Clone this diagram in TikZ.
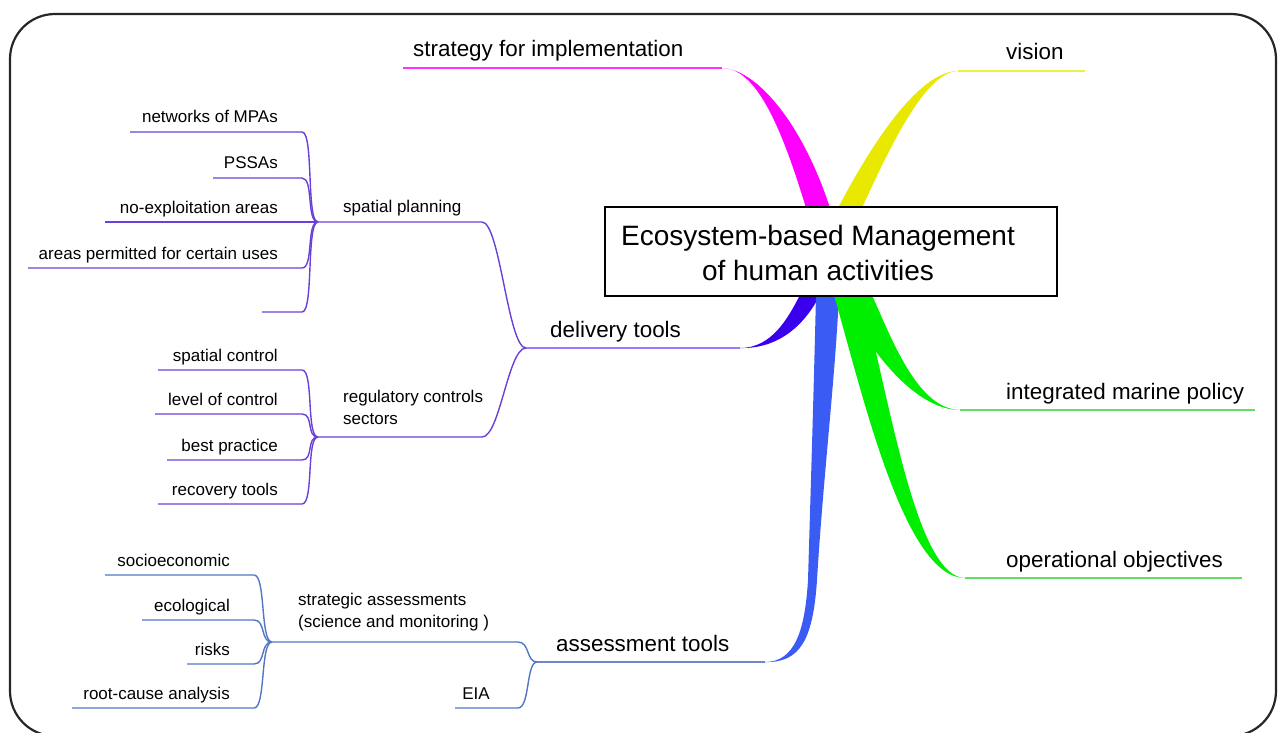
\documentclass[tikz,border=0pt]{standalone}
\usepackage{fontspec}
\setmainfont{Liberation Sans}
\definecolor{magB}{HTML}{FF00FF}
\definecolor{yelB}{HTML}{E8E800}
\definecolor{yelL}{HTML}{EEEE44}
\definecolor{purB}{HTML}{3A00EE}
\definecolor{purL}{HTML}{9E78FF}
\definecolor{bluB}{HTML}{3A5CF5}
\definecolor{bluL}{HTML}{6F86C8}
\definecolor{grnB}{HTML}{00EE00}
\definecolor{grnL}{HTML}{66DD66}
\definecolor{subP}{HTML}{6A40D8}
\definecolor{subB}{HTML}{5276C4}
\begin{document}
\begin{tikzpicture}[x=1pt,y=-1pt,
  big/.style={inner sep=0pt, font=\fontsize{22.4}{26}\selectfont},
  sml/.style={inner sep=0pt, font=\fontsize{17}{21.5}\selectfont},
  thinP/.style={draw=subP, line width=1.4pt},
  thinB/.style={draw=subB, line width=1.4pt},
  trunk/.style={line width=2pt}]
\useasboundingbox (0,0) rectangle (1278,733);
% frame
\draw[line width=2.2pt, draw=black!85, rounded corners=45pt] (10,14) rectangle (1276,736);

% ===== main tapered branches =====
% strategy (magenta)
\fill[magB] (722,68) .. controls (755,68) and (780,122) .. (806,208)
  -- (830,208) .. controls (802,122) and (756,69) .. (722,68) -- cycle;
% vision (yellow)
\fill[yelB] (958,71) .. controls (925,71) and (882,124) .. (838,208)
  -- (862,208) .. controls (900,124) and (930,72) .. (958,71) -- cycle;
% delivery tools (violet)
\fill[purB] (740,348) .. controls (772,348) and (788,318) .. (800,295)
  -- (820,295) .. controls (804,326) and (778,349) .. (740,348) -- cycle;
% assessment tools (blue)
\fill[bluB] (765,662) .. controls (795,662) and (805,630) .. (808,580)
  .. controls (811,480) and (814,380) .. (816,295)
  -- (839,295) .. controls (835,380) and (823,480) .. (817,580)
  .. controls (813,640) and (800,663) .. (765,662) -- cycle;
% integrated marine policy (green)
\fill[grnB] (960,410) .. controls (915,410) and (868,350) .. (842,295)
  -- (872,295) .. controls (894,345) and (919,409) .. (960,410) -- cycle;
% operational objectives (green)
\fill[grnB] (965,578) .. controls (905,578) and (864,400) .. (834,295)
  -- (862,295) .. controls (890,400) and (916,577) .. (965,578) -- cycle;

% centre box
\node[draw=black, line width=1.6pt, fill=white, minimum width=452pt, minimum height=89pt, inner sep=0pt] (center) at (831,251.5) {};
\node[inner sep=0pt, align=center, font=\fontsize{28}{35}\selectfont] (ctext) at (818,253) {Ecosystem-based Management\\of human activities};

% ===== level-1 labels and lines =====
\coordinate (sEnd) at (722,68);
\coordinate (vEnd) at (958,71);
\coordinate (dEnd) at (740,348);
\coordinate (aEnd) at (765,662);
\coordinate (iEnd) at (960,410);
\coordinate (oEnd) at (965,578);

\node[big, anchor=base west] (strat) at (413,57) {strategy for implementation};
\node[big, anchor=base west] (vis) at (1006,60) {vision};
\node[big, anchor=base west] (integ) at (1006,399) {integrated marine policy};
\node[big, anchor=base west] (oper) at (1006,567) {operational objectives};
\node[big, anchor=base west] (deliv) at (550,337) {delivery tools};
\node[big, anchor=base west] (assess) at (556,651) {assessment tools};

\coordinate (sL) at (403,68);
\coordinate (vR) at (1085,71);
\coordinate (iR) at (1255,410);
\coordinate (oR) at (1242,578);
\coordinate (dJ) at (526,348);
\coordinate (aJ) at (537,662);

\draw[trunk, magB!80] (sL) -- (sEnd);
\draw[trunk, yelL] (vEnd) -- (vR);
\draw[trunk, grnL] (iEnd) -- (iR);
\draw[trunk, grnL] (oEnd) -- (oR);
\draw[trunk, purL] (dJ) -- (dEnd);
\draw[trunk, bluL] (aJ) -- (aEnd);

% ===== delivery tools sub-branches =====
\node[sml, anchor=base west] (spat) at (343,212) {spatial planning};
\node[sml, anchor=north west, align=left] (regu) at (343,390) {regulatory controls\\sectors};
\coordinate (spJ) at (318,222);
\coordinate (rgJ) at (318,437);
\draw[thinP] (spJ) -- (482,222) .. controls (500,222) and (508,348) .. (dJ);
\draw[thinP] (rgJ) -- (482,437) .. controls (500,437) and (508,348) .. (dJ);

% spatial planning children
\node[sml, anchor=base east] (mpa) at (278,123) {networks of MPAs};
\node[sml, anchor=base east] (pssa) at (278,169) {PSSAs};
\node[sml, anchor=base east] (noex) at (278,213) {no-exploitation areas};
\node[sml, anchor=base east] (perm) at (278,259) {areas permitted for certain uses};
\coordinate (mpaL) at (130,132);
\coordinate (pssaL) at (213,178);
\coordinate (noexL) at (105,222);
\coordinate (permL) at (28,268);
\coordinate (emptL) at (262,312);
\draw[thinP] (mpaL) -- (302,132) .. controls (314,132) and (306,222) .. (spJ);
\draw[thinP] (pssaL) -- (302,178) .. controls (314,178) and (306,222) .. (spJ);
\draw[thinP] (noexL) -- (spJ);
\draw[thinP] (permL) -- (302,268) .. controls (314,268) and (306,222) .. (spJ);
\draw[thinP] (emptL) -- (302,312) .. controls (314,312) and (306,222) .. (spJ);

% regulatory children
\node[sml, anchor=base east] (spc) at (278,361) {spatial control};
\node[sml, anchor=base east] (loc) at (278,405) {level of control};
\node[sml, anchor=base east] (bp) at (278,451) {best practice};
\node[sml, anchor=base east] (rec) at (278,495) {recovery tools};
\coordinate (spcL) at (158,370);
\coordinate (locL) at (155,414);
\coordinate (bpL) at (167,460);
\coordinate (recL) at (158,504);
\draw[thinP] (spcL) -- (302,370) .. controls (314,370) and (306,437) .. (rgJ);
\draw[thinP] (locL) -- (302,414) .. controls (314,414) and (306,437) .. (rgJ);
\draw[thinP] (bpL) -- (302,460) .. controls (314,460) and (306,437) .. (rgJ);
\draw[thinP] (recL) -- (302,504) .. controls (314,504) and (306,437) .. (rgJ);

% ===== assessment tools sub-branches =====
\node[sml, anchor=north west, align=left] (strg) at (298,593) {strategic assessments\\(science and monitoring )};
\node[sml, anchor=base east] (eia) at (490,699) {EIA};
\coordinate (stJ) at (272,642);
\coordinate (eiaL) at (455,708);
\draw[thinB] (stJ) -- (518,642) .. controls (530,642) and (526,662) .. (aJ);
\draw[thinB] (eiaL) -- (518,708) .. controls (530,708) and (526,662) .. (aJ);

\node[sml, anchor=base east] (soc) at (230,566) {socioeconomic};
\node[sml, anchor=base east] (eco) at (230,611) {ecological};
\node[sml, anchor=base east] (risk) at (230,655) {risks};
\node[sml, anchor=base east] (root) at (230,699) {root-cause analysis};
\coordinate (socL) at (105,575);
\coordinate (ecoL) at (142,620);
\coordinate (riskL) at (187,664);
\coordinate (rootL) at (72,708);
\draw[thinB] (socL) -- (254,575) .. controls (266,575) and (260,642) .. (stJ);
\draw[thinB] (ecoL) -- (254,620) .. controls (266,620) and (260,642) .. (stJ);
\draw[thinB] (riskL) -- (254,664) .. controls (266,664) and (260,642) .. (stJ);
\draw[thinB] (rootL) -- (254,708) .. controls (266,708) and (260,642) .. (stJ);
\end{tikzpicture}
\end{document}
